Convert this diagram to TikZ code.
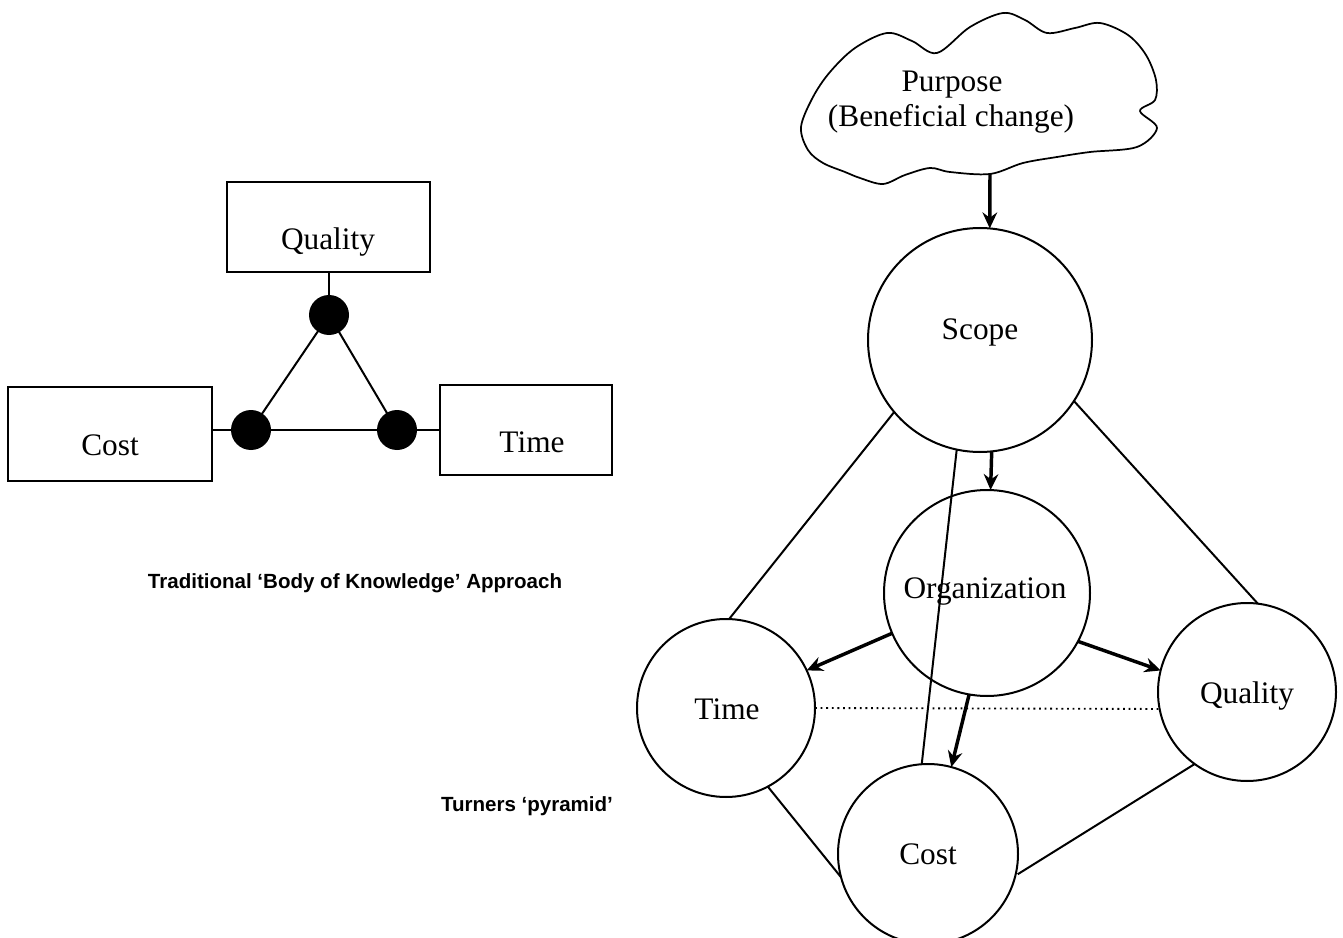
\documentclass[tikz,border=0pt]{standalone}
\usepackage{fontspec}
\setmainfont{Liberation Serif}
\newfontfamily\headfont{Liberation Sans}
\usetikzlibrary{arrows.meta}
\begin{document}
\begin{tikzpicture}[x=0.75pt,y=-0.75pt,
  thinline/.style={line width=1.5pt},
  box/.style={draw,rectangle,line width=1.5pt,inner sep=0pt,outer sep=0pt},
  dot/.style={circle,fill=black,minimum size=30pt,inner sep=0pt,outer sep=0pt},
  ball/.style={draw,circle,line width=1.5pt,inner sep=0pt,outer sep=0pt},
  lbl/.style={font=\fontsize{23.5}{26}\selectfont,anchor=base,inner sep=0pt},
  headline/.style={font=\headfont\bfseries\fontsize{15.4}{18}\selectfont,anchor=base,inner sep=0pt},
  flow/.style={line width=2.6pt,-{Stealth[length=12pt,width=11pt,inset=4pt]}},
  hidden/.style={line width=1.4pt,dash pattern=on 1.4pt off 2.8pt}
]
\clip (0,0) rectangle (1343,938);

% ---------- traditional triangle ----------
\node[box,minimum width=152.25pt,minimum height=67.5pt] (qbox) at (328.5,227) {};
\node[box,minimum width=153pt,minimum height=70.5pt] (cbox) at (110,434) {};
\node[box,minimum width=129pt,minimum height=67.5pt] (tbox) at (526,430) {};
\node[lbl] (qboxtext) at (328,250) {Quality};
\node[lbl] (cboxtext) at (110,455) {Cost};
\node[lbl] (tboxtext) at (532,452) {Time};

\coordinate (dqc) at (329,315);
\coordinate (dcc) at (251,430);
\coordinate (dtc) at (397,430);
\draw[thinline] (dqc) -- (dqc |- qbox.south);
\draw[thinline] (dcc -| cbox.east) -- (dtc -| tbox.west);
\draw[thinline] (dcc) -- (dqc) -- (dtc);
\node[dot] (dq) at (dqc) {};
\node[dot] (dc) at (dcc) {};
\node[dot] (dt) at (dtc) {};

\node[headline] (tradcap) at (355,588) {Traditional ‘Body of Knowledge’ Approach};
\node[headline] (pyrcap) at (527,811) {Turners ‘pyramid’};

% ---------- purpose cloud ----------
\draw[line width=1.3pt] plot[smooth cycle, tension=0.55] coordinates {
  (801,127) (813,97) (830,72) (855,48) (887,33) (912,41) (937,53)
  (970,27) (1003,13) (1025,20) (1047,33) (1075,28) (1100,23) (1128,35)
  (1146,55) (1156,80) (1155,100) (1140,111) (1157,128) (1137,147)
  (1090,152) (1057,157) (1023,163) (990,174) (950,172) (930,168)
  (905,175) (883,184) (860,178) (845,172) (823,163) (808,150)};
\node[lbl] (purpose) at (952,92) {Purpose};
\node[lbl] (purposesub) at (951,127) {(Beneficial change)};
\coordinate (cloudbase) at (990,174);

% ---------- pyramid ----------
\node[ball,minimum size=168pt] (scope) at (980,340) {};
\node[ball,minimum size=154.5pt] (org) at (987,593) {};
\node[ball,minimum size=133.5pt] (time) at (726,708) {};
\node[ball,minimum size=133.5pt] (quality) at (1247,692) {};
\node[ball,minimum size=135pt] (cost) at (928,854) {};

\node[lbl] (scopetext) at (980,339) {Scope};
\node[lbl] (orgtext) at (985,598) {Organization};
\node[lbl] (timetext) at (727,719) {Time};
\node[lbl] (qualitytext) at (1247,703) {Quality};
\node[lbl] (costtext) at (928,864) {Cost};

% edges of the pyramid
\draw[thinline] (scope.220) -- (time.88);
\draw[thinline] (scope.327) -- (quality.83);
\draw[thinline] (scope.258) -- (cost.94);
\draw[thinline] (time.298) -- (cost.195);
\draw[thinline] (quality.234) -- ([shift={(2,0)}]cost.347);
\draw[hidden] (time.east) -- (quality.191);

% flows
\draw[flow] (cloudbase) -- (scope.85);
\draw[flow] (scope.276) -- (org.88);
\draw[flow] (org.203) -- (time.25);
\draw[flow] (org.332) -- (quality.166);
\draw[flow] (org.260) -- (cost.75);
\end{tikzpicture}
\end{document}
